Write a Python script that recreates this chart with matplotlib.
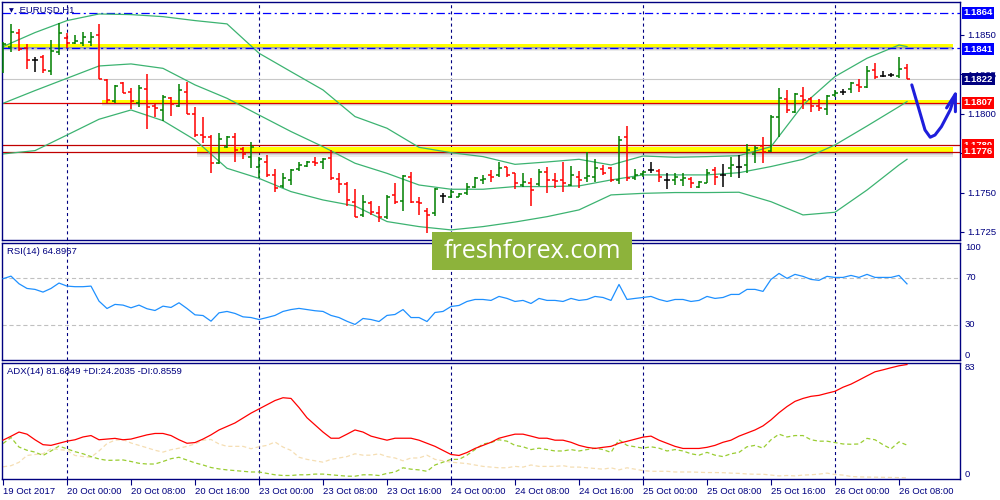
import matplotlib
matplotlib.use('Agg')
import matplotlib.pyplot as plt
import matplotlib.transforms as mtransforms
from matplotlib.collections import LineCollection
from matplotlib.patches import Rectangle

plt.rcParams['font.family'] = ['Liberation Sans', 'DejaVu Sans']
plt.rcParams['lines.scale_dashes'] = False

# ---------------- data ----------------
opens = [1.18278,1.18426,1.18511,1.18415,1.18341,1.18358,1.18271,1.18394,1.18479,1.18447,
         1.18447,1.18458,1.18500,1.18214,1.18083,1.18193,1.18140,1.18066,1.18155,1.18049,
         1.18024,1.18098,1.18049,1.18140,1.17999,1.17865,1.17855,1.17686,1.17791,1.17855,
         1.17774,1.17728,1.17660,1.17696,1.17612,1.17542,1.17580,1.17648,1.17669,1.17696,
         1.17696,1.17717,1.17584,1.17555,1.17442,1.17358,1.17436,1.17368,1.17343,1.17485,
         1.17449,1.17601,1.17442,1.17385,1.17368,1.17478,1.17474,1.17474,1.17495,1.17533,
         1.17580,1.17612,1.17612,1.17660,1.17622,1.17548,1.17563,1.17555,1.17633,1.17580,
         1.17580,1.17548,1.17601,1.17590,1.17597,1.17648,1.17654,1.17580,1.17851,1.17590,
         1.17618,1.17643,1.17639,1.17580,1.17580,1.17580,1.17584,1.17538,1.17563,1.17643,
         1.17612,1.17654,1.17665,1.17675,1.17745,1.17796,1.17766,1.17977,1.18092,1.18013,
         1.18113,1.18092,1.18049,1.18028,1.18119,1.18140,1.18155,1.18183,1.18168,1.18278,
         1.18240,1.18246,1.18240,1.18288]
highs = [1.18458,1.18570,1.18536,1.18443,1.18358,1.18373,1.18468,1.18578,1.18511,1.18500,
         1.18521,1.18521,1.18570,1.18219,1.18183,1.18204,1.18162,1.18183,1.18252,1.18062,
         1.18119,1.18109,1.18189,1.18204,1.18045,1.17982,1.17865,1.17876,1.17859,1.17876,
         1.17791,1.17823,1.17728,1.17739,1.17648,1.17622,1.17648,1.17696,1.17703,1.17728,
         1.17717,1.17770,1.17622,1.17569,1.17521,1.17485,1.17447,1.17415,1.17485,1.17559,
         1.17612,1.17629,1.17474,1.17400,1.17527,1.17500,1.17516,1.17495,1.17563,1.17601,
         1.17612,1.17643,1.17696,1.17665,1.17626,1.17626,1.17590,1.17648,1.17660,1.17622,
         1.17696,1.17669,1.17639,1.17760,1.17711,1.17675,1.17665,1.17859,1.17922,1.17648,
         1.17639,1.17696,1.17648,1.17626,1.17626,1.17626,1.17597,1.17576,1.17648,1.17665,
         1.17681,1.17728,1.17739,1.17808,1.17796,1.17855,1.17992,1.18162,1.18151,1.18130,
         1.18168,1.18109,1.18092,1.18119,1.18151,1.18155,1.18204,1.18219,1.18303,1.18324,
         1.18274,1.18261,1.18358,1.18316]
lows = [1.18257,1.18394,1.18400,1.18284,1.18267,1.18257,1.18246,1.18373,1.18415,1.18441,
        1.18430,1.18430,1.18219,1.18071,1.18071,1.18134,1.18028,1.18041,1.17901,1.17982,
        1.17956,1.17986,1.18041,1.17999,1.17855,1.17813,1.17622,1.17681,1.17781,1.17696,
        1.17711,1.17654,1.17590,1.17597,1.17506,1.17527,1.17548,1.17639,1.17665,1.17669,
        1.17648,1.17580,1.17500,1.17415,1.17343,1.17347,1.17358,1.17316,1.17330,1.17428,
        1.17385,1.17432,1.17358,1.17242,1.17351,1.17436,1.17464,1.17470,1.17485,1.17527,
        1.17555,1.17569,1.17597,1.17601,1.17521,1.17538,1.17415,1.17542,1.17500,1.17527,
        1.17506,1.17542,1.17527,1.17569,1.17569,1.17612,1.17569,1.17555,1.17576,1.17580,
        1.17601,1.17626,1.17569,1.17521,1.17548,1.17542,1.17527,1.17527,1.17559,1.17548,
        1.17538,1.17601,1.17590,1.17622,1.17690,1.17690,1.17760,1.17851,1.18007,1.18007,
        1.18028,1.18013,1.18020,1.17992,1.18109,1.18119,1.18134,1.18140,1.18162,1.18219,
        1.18231,1.18231,1.18225,1.18219]
closes = [1.18443,1.18517,1.18409,1.18341,1.18341,1.18278,1.18400,1.18511,1.18451,1.18464,
          1.18485,1.18489,1.18219,1.18088,1.18176,1.18134,1.18083,1.18162,1.18041,1.18035,
          1.18109,1.18062,1.18151,1.17999,1.17865,1.17855,1.17690,1.17838,1.17851,1.17770,
          1.17745,1.17791,1.17711,1.17612,1.17527,1.17590,1.17643,1.17675,1.17692,1.17690,
          1.17711,1.17590,1.17555,1.17453,1.17347,1.17442,1.17379,1.17347,1.17474,1.17442,
          1.17605,1.17442,1.17436,1.17358,1.17521,1.17478,1.17506,1.17491,1.17533,1.17595,
          1.17584,1.17601,1.17654,1.17612,1.17559,1.17569,1.17516,1.17633,1.17580,1.17576,
          1.17563,1.17612,1.17580,1.17605,1.17654,1.17626,1.17580,1.17834,1.17590,1.17612,
          1.17633,1.17643,1.17601,1.17580,1.17601,1.17590,1.17559,1.17569,1.17622,1.17597,
          1.17612,1.17675,1.17665,1.17770,1.17781,1.17760,1.17977,1.18098,1.18024,1.18126,
          1.18088,1.18049,1.18035,1.18113,1.18134,1.18140,1.18193,1.18168,1.18274,1.18231,
          1.18240,1.18246,1.18282,1.18219]

band_idx = [0,4,8,12,16,20,24,28,32,36,40,44,48,52,56,60,64,68,72,76,80,84,88,92,96,100,104,108,112,113]
bb_upper = [1.18426,1.18515,1.18591,1.18633,1.18629,1.18616,1.18591,1.18570,1.18384,1.18267,
            1.18151,1.17982,1.17908,1.17787,1.17753,1.17728,1.17679,1.17694,1.17711,1.17675,
            1.17732,1.17724,1.17728,1.17734,1.17791,1.18056,1.18236,1.18352,1.18436,1.18426]
bb_mid = [1.18066,1.18147,1.18225,1.18303,1.18316,1.18288,1.18183,1.18098,1.17992,1.17887,
          1.17791,1.17686,1.17622,1.17548,1.17521,1.17521,1.17538,1.17538,1.17542,1.17580,
          1.17612,1.17612,1.17612,1.17626,1.17665,1.17711,1.17802,1.17922,1.18045,1.18077]
bb_lower = [1.17745,1.17766,1.17865,1.17965,1.18024,1.17956,1.17834,1.17654,1.17590,1.17506,
            1.17453,1.17415,1.17316,1.17284,1.17263,1.17284,1.17313,1.17347,1.17390,1.17485,
            1.17495,1.17500,1.17500,1.17502,1.17442,1.17358,1.17375,1.17516,1.17675,1.17711]

rsi = [69.3,71.5,65.0,61.0,60.2,57.9,61.0,65.6,63.0,62.5,
       62.5,63.0,50.2,43.9,47.4,46.8,44.5,46.8,43.7,42.2,
       45.9,44.8,48.8,43.9,38.5,37.9,33.1,40.2,41.4,39.7,
       36.8,36.2,34.5,36.2,38.0,41.4,43.0,44.0,43.0,42.0,
       41.4,38.0,36.2,33.0,30.3,35.4,34.5,32.8,38.0,38.8,
       43.0,36.2,36.2,32.8,40.5,41.4,45.6,46.5,49.9,51.6,
       51.6,50.8,54.2,52.5,49.9,50.8,48.2,52.5,50.8,50.8,
       49.9,52.5,50.8,51.6,54.2,53.3,50.8,64.4,51.6,52.5,
       53.3,54.2,51.6,49.9,51.6,51.6,49.9,50.8,54.2,52.5,
       53.3,55.9,55.9,60.2,60.2,58.5,68.7,73.8,69.6,73.0,
       71.3,68.7,67.9,71.3,70.4,70.4,72.1,70.4,73.0,70.4,
       70.4,70.4,72.1,64.9]
rsi_last = '64.8967'
adx = [27.7,30.5,33.5,32.0,28.0,24.5,24.0,25.5,27.0,28.0,
       30.0,31.0,28.0,28.5,29.0,28.0,28.5,30.0,31.5,32.5,
       32.5,31.0,28.0,25.5,26.0,28.5,31.5,35.0,37.5,40.0,
       43.5,47.0,50.0,53.0,56.0,58.0,57.5,51.0,43.7,38.6,
       33.5,29.1,29.1,32.0,35.0,33.5,30.6,29.1,27.7,29.1,
       29.1,29.1,27.7,25.5,23.3,20.4,17.5,16.8,18.9,21.8,
       24.0,26.2,29.1,30.6,32.0,32.0,30.6,29.1,29.1,27.7,
       27.7,26.2,24.0,22.6,21.8,22.6,23.3,25.5,26.9,28.4,
       29.9,30.6,27.7,25.5,23.3,21.8,21.8,21.8,22.6,24.0,
       26.2,27.7,30.6,32.8,35.0,37.9,42.2,47.3,51.7,55.4,
       57.5,59.0,59.7,61.2,62.6,65.5,67.7,70.6,73.6,76.5,
       77.9,79.4,80.8,81.7]
plus_di = [25.3,29.6,22.8,20.5,19.2,16.8,20.0,23.5,21.5,19.5,
           18.0,16.0,14.3,13.3,13.4,13.6,12.5,11.2,10.7,10.7,
           12.5,14.5,15.5,13.5,11.5,10.0,8.2,7.2,6.5,6.0,
           5.5,5.0,5.0,4.0,3.0,2.5,2.5,3.0,3.0,3.5,
           3.5,3.0,2.5,2.0,2.0,3.0,3.0,2.5,4.0,5.0,
           8.0,7.0,6.5,5.5,10.0,12.0,14.0,14.0,17.0,21.0,
           25.0,26.0,28.0,27.0,24.0,23.0,21.0,22.0,21.0,20.0,
           20.0,21.0,20.0,21.0,22.0,21.0,19.0,28.0,24.0,23.0,
           22.0,23.0,22.0,20.0,21.0,20.0,18.0,17.0,19.0,17.0,
           16.0,18.0,19.0,23.0,24.0,22.0,28.0,32.0,30.0,31.0,
           31.0,28.0,27.0,27.0,26.0,25.0,24.8,25.0,29.0,28.0,
           24.5,21.5,26.5,24.2]
minus_di = [8.7,9.5,11.9,16.8,17.5,18.0,21.6,21.0,20.4,16.8,
            16.0,15.5,20.0,25.3,27.7,28.2,25.7,24.0,22.3,20.5,
            19.2,20.9,22.0,23.3,25.0,27.7,28.2,25.0,23.3,23.3,
            23.3,21.6,23.0,24.0,26.4,22.8,20.4,15.5,14.0,13.0,
            12.0,14.0,15.0,16.0,18.0,17.0,17.0,18.0,16.0,15.0,
            13.0,15.0,15.0,17.0,14.0,13.0,12.0,11.5,11.0,10.0,
            9.0,8.5,8.0,8.0,9.0,8.5,10.0,9.0,9.0,9.0,
            9.5,8.5,8.5,8.0,7.5,7.0,8.0,6.5,8.0,7.0,
            6.0,5.5,5.5,5.5,5.0,5.0,5.0,4.8,4.6,4.6,
            4.5,4.2,4.0,3.6,3.4,3.4,2.8,2.2,2.5,2.2,
            2.8,3.0,3.5,4.2,3.2,2.8,1.8,1.5,1.4,1.3,
            1.2,1.1,1.0,0.86]
adx_label = 'ADX(14) 81.6849 +DI:24.2035 -DI:0.8559'

time_tick_idx = [0,8,16,24,32,40,48,56,64,72,80,88,96,104,112]
time_labels = ['19 Oct 2017','20 Oct 00:00','20 Oct 08:00','20 Oct 16:00','23 Oct 00:00',
               '23 Oct 08:00','23 Oct 16:00','24 Oct 00:00','24 Oct 08:00','24 Oct 16:00',
               '25 Oct 00:00','25 Oct 08:00','25 Oct 16:00','26 Oct 00:00','26 Oct 08:00']
day_separators = [8,32,56,80,104]
price_ticks = [1.1725,1.1750,1.1775,1.1800,1.1825,1.1850]
price_tick_labels = ['1.1725','1.1750','','1.1800','1.1825','1.1850']
level_values = [1.1864,1.1841,1.1822,1.1807,1.1780,1.1776]
level_colors = ['#0000FF','#0000FF','#000080','#FF0000','#FF0000','#FF0000']
# highlighted zones (yellow bands) : (start index, bottom, top)
zones = [(0,1.18422,1.18443),(12.4,1.18071,1.18088),(24.2,1.17760,1.17787)]
# hand drawn arrow (bar index, price)
arrow_x = [113.6,114.4,115.25,115.9,116.5,117.3,118.4,119.05]
arrow_y = [1.18183,1.18045,1.17897,1.17851,1.17865,1.17918,1.18024,1.18125]

NAVY = '#000080'
W, H = 1000, 500
fig = plt.figure(figsize=(W/100, H/100), dpi=100)
fig.patch.set_facecolor('white')

def frac(x0, y0, x1, y1):
    return [x0/W, 1-y1/H, (x1-x0)/W, (y1-y0)/H]

ax = fig.add_axes(frac(2, 2.3, 960, 240))
ax_r = fig.add_axes(frac(2, 242.7, 960, 360))
ax_a = fig.add_axes(frac(2, 362.7, 960, 479))

n = len(closes)
XL = (-0.125, 119.625)
for a in (ax, ax_r, ax_a):
    a.set_xlim(*XL)
    a.set_facecolor('white')
    for s in a.spines.values():
        s.set_color(NAVY)
        s.set_linewidth(1.0)
    a.tick_params(left=False, labelleft=False, bottom=False, labelbottom=False,
                  right=False, labelright=False)
    for d in day_separators:
        a.axvline(d, color=NAVY, lw=0.8, ls=(0, (2.2, 2.2)), zorder=1)

# ---------------- price panel ----------------
ax.set_ylim(1.17199, 1.18707)
ax.yaxis.tick_right()
ax.set_yticks(price_ticks)
ax.set_yticklabels(price_tick_labels)
ax.tick_params(axis='y', right=True, labelright=True, length=3, width=0.8,
               color=NAVY, labelcolor=NAVY, labelsize=6.8, pad=2)

# level lines
ax.axhline(1.18219, color='#C8C8C8', lw=0.8, zorder=1)
ax.axhline(1.1864, color='#0000FF', lw=0.9, ls=(0, (6, 2.5, 1.5, 2.5)), zorder=2)
ax.axhline(1.18415, color='#0000FF', lw=0.9, ls=(0, (6, 2.5, 1.5, 2.5)), zorder=3)
for x0, b, t in zones:
    ax.fill_between([x0, 118.75], b, t, color='#FFFF00', lw=0, zorder=1.5)
    h = (t - b)
    for k, al in enumerate([0.5, 0.35, 0.22, 0.1]):
        ax.fill_between([x0, 118.75], b - h*0.3*(k+1), b - h*0.3*k,
                        color='#444444', alpha=al, lw=0, zorder=1.4)
ax.axhline(1.18069, color='#DD0000', lw=0.9, zorder=2)
ax.axhline(1.17799, color='#C00000', lw=0.9, zorder=2)
ax.axhline(1.17755, color='#C00000', lw=0.9, zorder=2)

# bollinger bands
for band in (bb_upper, bb_mid, bb_lower):
    ax.plot(band_idx, band, color='#3CB371', lw=0.9, zorder=2)

# bars
segs, cols = [], []
for i in range(n):
    o, h_, l, c = opens[i], highs[i], lows[i], closes[i]
    if c > o + 1e-6:
        col = '#008000'
    elif c < o - 1e-6:
        col = '#FF0000'
    else:
        col = '#000000'
    segs += [[(i, l), (i, h_)], [(i-0.4, o), (i, o)], [(i, c), (i+0.4, c)]]
    cols += [col]*3
ax.add_collection(LineCollection(segs, colors=cols, linewidths=1.1, zorder=4,
                                 capstyle='butt'))

# price labels boxes
blend = mtransforms.blended_transform_factory(ax.transAxes, ax.transData)
for v, c in zip(level_values, level_colors):
    ax.text(1.0 + 3.5/958, v, f'{v:.4f}', transform=blend, ha='left', va='center',
            color='white', fontsize=6.8, fontweight='bold', clip_on=False, zorder=6,
            bbox=dict(boxstyle='square,pad=0.18', fc=c, ec='none'))

# arrow
ax.plot(arrow_x, arrow_y, color='#1E1EDC', lw=2.2, solid_capstyle='round',
        solid_joinstyle='round', clip_on=False, zorder=7)
ax.plot([117.95, arrow_x[-1], 119.05], [1.18037, arrow_y[-1], 1.18013],
        color='#1E1EDC', lw=2.2, solid_capstyle='round', clip_on=False, zorder=7)

ax.text(7/958, 1 - (10.5-2.3)/237.7, '\u25BC', transform=ax.transAxes, fontsize=4.5,
        color=NAVY, ha='left', va='center', family=['DejaVu Sans'])
ax.text(15.5/958, 1 - (10.5-2.3)/237.7, '.EURUSD,H1', transform=ax.transAxes,
        fontsize=6.8, color=NAVY, ha='left', va='center')

# ---------------- RSI panel ----------------
ax_r.set_ylim(0, 100)
ax_r.axhline(70, color='#C0C0C0', lw=0.8, ls=(0, (3, 2)), zorder=1)
ax_r.axhline(30, color='#C0C0C0', lw=0.8, ls=(0, (3, 2)), zorder=1)
ax_r.plot(range(n), rsi, color='#1E90FF', lw=0.9, zorder=3)
blend_r = mtransforms.blended_transform_factory(ax_r.transAxes, ax_r.transData)
for v, va in [(100, 'top'), (70, 'center'), (30, 'center'), (0, 'bottom')]:
    ax_r.text(1.0 + 5/958, v, str(v), transform=blend_r, ha='left', va=va,
              color=NAVY, fontsize=6.8, clip_on=False)
ax_r.text(5/958, 1 - 8.5/117.3, f'RSI(14) {rsi_last}',
          transform=ax_r.transAxes, ha='left', va='center', color=NAVY, fontsize=6.8)

# ---------------- ADX panel ----------------
ax_a.set_ylim(0, 83)
ax_a.plot(range(n), minus_di, color='#F5DEB3', lw=0.9, ls=(0, (3, 2)), zorder=2)
ax_a.plot(range(n), plus_di, color='#9ACD32', lw=0.9, ls=(0, (3, 2)), zorder=2)
ax_a.plot(range(n), adx, color='#FF0000', lw=0.9, zorder=3)
blend_a = mtransforms.blended_transform_factory(ax_a.transAxes, ax_a.transData)
ax_a.text(1.0 + 5/958, 83, '83', transform=blend_a, ha='left', va='top',
          color=NAVY, fontsize=6.8, clip_on=False)
ax_a.text(1.0 + 5/958, 0, '0', transform=blend_a, ha='left', va='bottom',
          color=NAVY, fontsize=6.8, clip_on=False)
ax_a.text(5/958, 1 - 8.5/116.3, adx_label,
          transform=ax_a.transAxes, ha='left', va='center', color=NAVY, fontsize=6.8)

ax_a.set_xticks(time_tick_idx)
ax_a.set_xticklabels(time_labels, ha='left')
ax_a.tick_params(axis='x', bottom=True, labelbottom=True, length=4, width=0.8,
                 color=NAVY, labelcolor=NAVY, labelsize=6.8, pad=1.5)

# ---------------- watermark ----------------
fig.patches.append(Rectangle((432/W, 1-270/H), 200/W, 38/H, transform=fig.transFigure,
                             facecolor='#8DB33B', edgecolor='none', zorder=5))
fig.text(532/W, 1-251.5/H, 'freshforex.com', ha='center', va='center', color='white',
         fontsize=18, family=['Open Sans', 'DejaVu Sans'], zorder=6)

fig.savefig('out.png', dpi=100, facecolor='white')
